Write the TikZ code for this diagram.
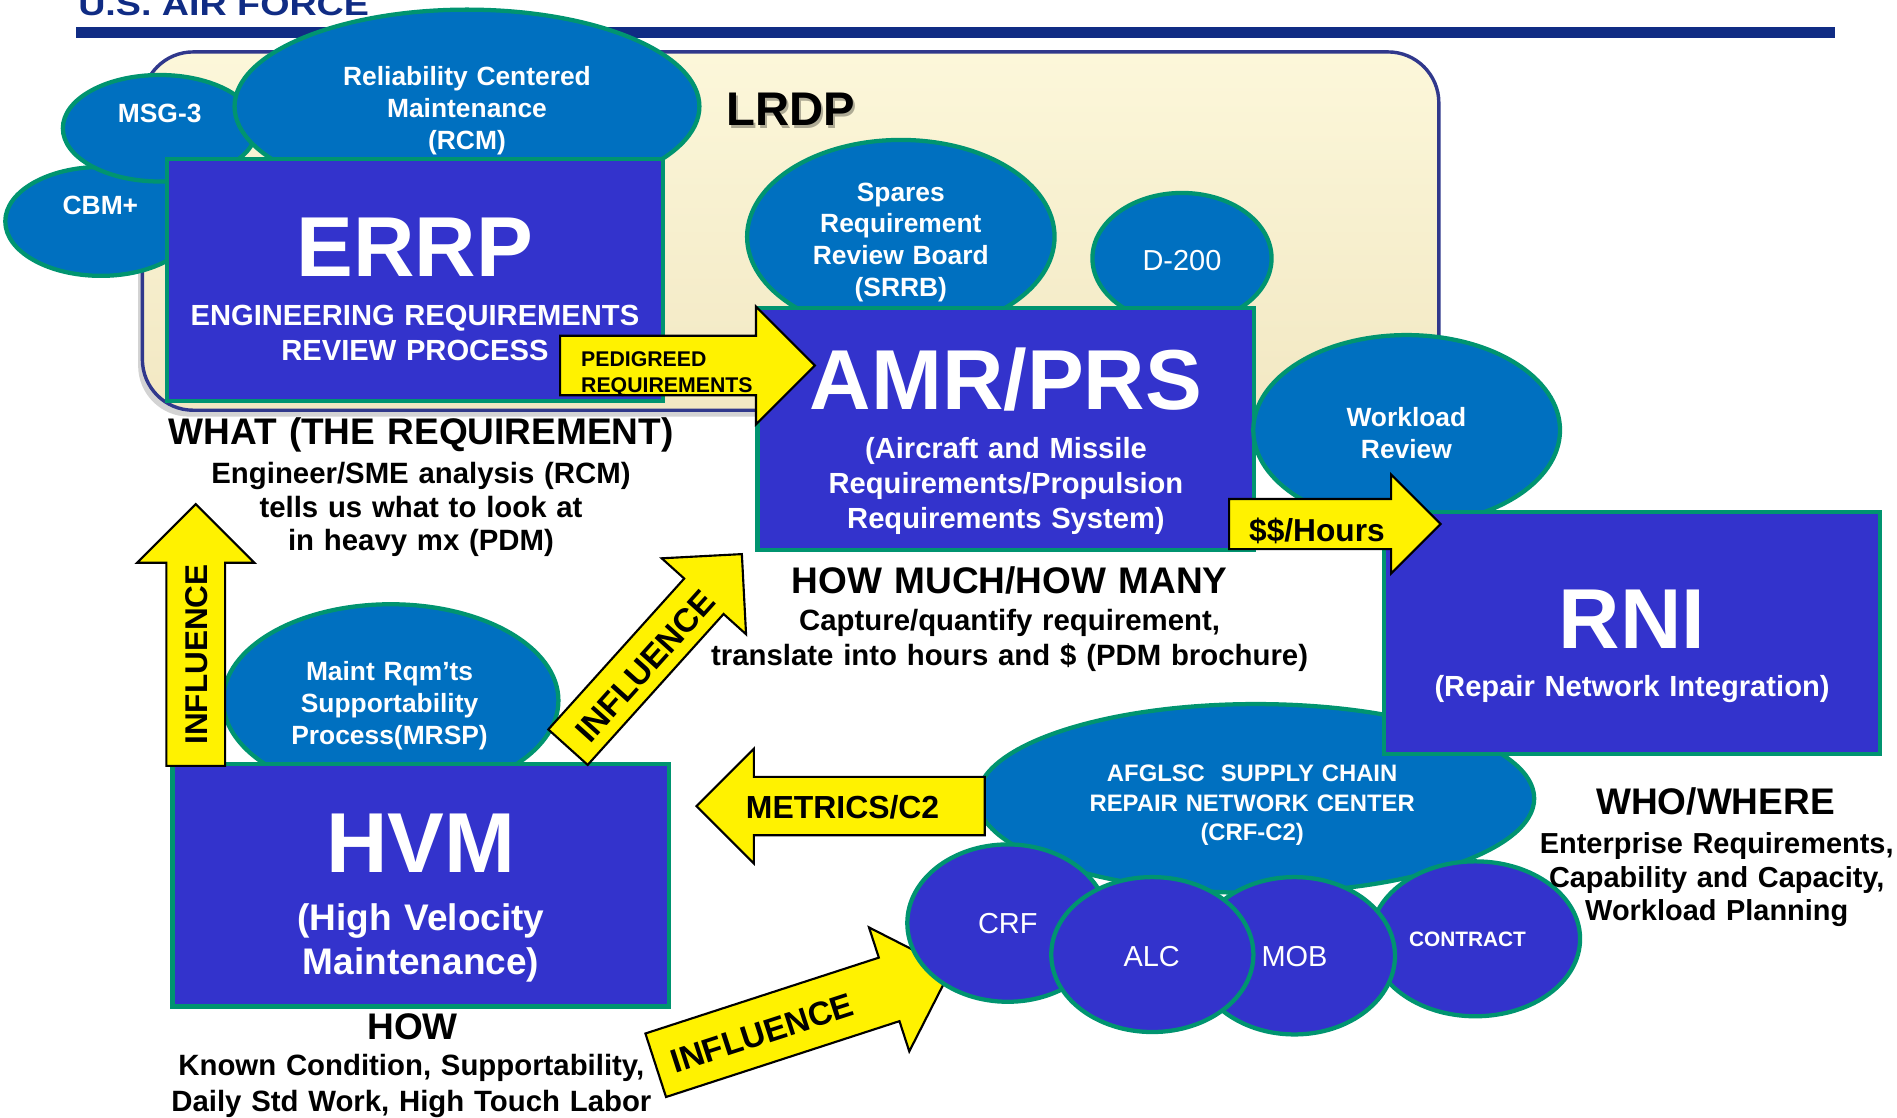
\documentclass[tikz,border=0pt]{standalone}
\usepackage{fontspec}
\setmainfont{Liberation Sans}
\newfontfamily\wideFont[FakeStretch=1.18]{Liberation Sans}
\usepackage{tikz}
\usetikzlibrary{shapes.geometric,shapes.arrows,shadows}

\definecolor{ellBlue}{RGB}{0,112,192}
\definecolor{edgeGreen}{RGB}{0,148,112}
\definecolor{boxBlue}{RGB}{51,51,204}
\definecolor{navy}{RGB}{16,44,132}
\definecolor{lrdpTop}{RGB}{252,247,218}
\definecolor{lrdpFill}{RGB}{242,232,195}
\definecolor{lrdpEdge}{RGB}{48,56,140}

\tikzset{
  bubble/.style={ellipse, draw=edgeGreen, line width=1pt, fill=ellBlue, inner sep=0pt, outer sep=0pt},
  bubbleDark/.style={bubble, fill=boxBlue},
  block/.style={rectangle, draw=edgeGreen, line width=1pt, fill=boxBlue, minimum width=4.1cm, minimum height=2cm, inner sep=0pt},
  lrdpFrame/.style={rectangle, rounded corners=0.42cm, draw=lrdpEdge, line width=0.8pt, top color=lrdpTop, bottom color=lrdpFill,
    drop shadow={shadow xshift=-1pt, shadow yshift=-1.5pt, opacity=0.35}, minimum width=10.71cm, minimum height=2.96cm},
  yArrow/.style={single arrow, draw=black, line width=0.5pt, fill=yellow, inner sep=0pt, outer sep=0pt,
    single arrow tip angle=90, single arrow head indent=0pt, align=left, anchor=tail},
  lightText/.style={anchor=base, inner sep=0pt, align=center, text width=6cm, text=white},
  darkText/.style={anchor=base, inner sep=0pt, align=center, text width=6cm, text=black},
  bubbleText/.style={lightText, font=\bfseries\fontsize{6.2}{7.5}\selectfont},
  plainText/.style={lightText, font=\fontsize{6.8}{8.2}\selectfont},
  bigTitle/.style={lightText, font=\bfseries\fontsize{20}{24}\selectfont},
  boxSub/.style={lightText, font=\bfseries\fontsize{6.85}{8.25}\selectfont},
  capHead/.style={darkText, font=\bfseries\fontsize{8.7}{10.4}\selectfont},
  capText/.style={darkText, font=\bfseries\fontsize{6.9}{8.2}\selectfont}
}

\begin{document}
\begin{tikzpicture}[x=0.01cm, y=-0.01cm]
        \useasboundingbox (0,0) rectangle (1568,924);

        % header
        \node[anchor=base west, inner sep=0pt, text=navy, font=\wideFont\bfseries\fontsize{7.5}{9}\selectfont] (usafText) at (64,13) {U.S. AIR FORCE};
        \fill[navy] (63,22) rectangle (1517,31.7);

        % LRDP frame
        \node[lrdpFrame] (lrdpBox) at (653.5,191) {};
        \node[anchor=base, inner sep=0pt, text=black, opacity=0.3, font=\bfseries\fontsize{11.1}{13}\selectfont] (lrdpShadow) at (655.5,106) {LRDP};
        \node[anchor=base, inner sep=0pt, font=\bfseries\fontsize{11.1}{13}\selectfont] (lrdpLabel) at (653.5,103.5) {LRDP};

        % top ellipses
        \node[bubble, minimum width=1.58cm, minimum height=0.90cm] (cbmEll) at (83.4,183) {};
        \node[bubble, minimum width=1.60cm, minimum height=0.88cm] (msgEll) at (132,106) {};
        \node[bubble, minimum width=3.84cm, minimum height=1.60cm] (rcmEll) at (386,88) {};
        \node[bubble, minimum width=2.54cm, minimum height=1.60cm] (srrbEll) at (744.6,195.7) {};
        \node[bubble, minimum width=1.48cm, minimum height=1.08cm] (d200Ell) at (977,213.5) {};

        % ERRP and AMR/PRS boxes
        \node[block] (errpBox) at (343.2,231.5) {};
        \node[block] (amrBox) at (831.2,354.8) {};
        \node[yArrow, text width=1.511cm, inner xsep=0.165cm, text height=0.249cm, text depth=0.225cm,
              single arrow head extend=0.241cm, font=\bfseries\fontsize{5}{5.97}\selectfont] (pedArrow) at (463,302.1) {PEDIGREED\\REQUIREMENTS};

        % right side
        \node[bubble, minimum width=2.534cm, minimum height=1.57cm] (workEll) at (1162.7,355.5) {};
        \node[bubble, minimum width=4.6cm, minimum height=1.56cm] (afglscEll) at (1038,660) {};
        \node[block] (rniBox) at (1349,523.3) {};
        \node[yArrow, text width=1.21cm, inner xsep=0.156cm, text height=0.341cm, text depth=0.056cm,
              single arrow head extend=0.202cm, font=\bfseries\fontsize{7.45}{9}\selectfont] (dolArrow) at (1016,433.15) {\$\$/Hours};

        % HVM side
        \node[bubble, minimum width=2.77cm, minimum height=1.59cm] (mrspEll) at (323,579) {};
        \node[block] (hvmBox) at (347.8,731.8) {};
        \node[yArrow, rotate=90, align=center, text width=1.902cm, text height=0.327cm, text depth=0.141cm,
              single arrow head extend=0.242cm, font=\bfseries\fontsize{7.4}{9}\selectfont] (vInfArrow) at (161.8,633) {\makebox[\linewidth]{INFLUENCE\hspace*{0.082cm}}};
        \node[yArrow, rotate=48, align=center, text width=1.91cm, text height=0.332cm, text depth=0.088cm,
              single arrow head extend=0.25cm, font=\bfseries\fontsize{7.8}{9}\selectfont] (uInfArrow) at (469.5,617.6) {\makebox[\linewidth]{INFLUENCE\hspace*{0.08cm}}};
        \node[yArrow, rotate=18, align=center, text width=2.2725cm, text height=0.38cm, text depth=0.154cm,
              single arrow head extend=0.2625cm, font=\bfseries\fontsize{7.8}{9}\selectfont] (lInfArrow) at (542,880.5) {\makebox[\linewidth]{INFLUENCE\hspace*{0.454cm}}};

        % repair network bubbles
        \node[bubbleDark, minimum width=1.73cm, minimum height=1.28cm] (contractEll) at (1219.5,776) {};
        \node[bubbleDark, minimum width=1.66cm, minimum height=1.30cm] (mobEll) at (1070,790) {};
        \node[bubbleDark, minimum width=1.66cm, minimum height=1.30cm] (crfEll) at (833,763) {};
        \node[bubbleDark, minimum width=1.67cm, minimum height=1.28cm] (alcEll) at (952.5,789) {};
        \node[yArrow, shape border rotate=180, text width=2.1225cm, text height=0.334cm, text depth=0.131cm,
              single arrow head extend=0.2325cm, font=\bfseries\fontsize{7.5}{9}\selectfont] (metArrow) at (814,666.25) {\hspace*{0.1585cm}METRICS/C2};

        % ellipse texts
        \node[bubbleText] (msgText) at (132,101.6) {MSG-3};
        \node[bubbleText] (cbmText) at (83,177.4) {CBM+};
        \node[bubbleText] (rcmText) at (386,70.6) {Reliability Centered\\Maintenance\\(RCM)};
        \node[bubbleText] (srrbText) at (744.6,166.2) {Spares\\Requirement\\Review Board\\(SRRB)};
        \node[plainText] (d200Text) at (977,223.6) {D-200};
        \node[bubbleText] (workText) at (1162.5,352.3) {Workload\\Review};
        \node[bubbleText] (mrspText) at (322,562.8) {Maint Rqm’ts\\Supportability\\Process(MRSP)};
        \node[lightText, font=\bfseries\fontsize{5.6}{6.97}\selectfont] (afglscText) at (1035,646) {AFGLSC~~SUPPLY CHAIN\\REPAIR NETWORK CENTER\\(CRF-C2)};
        \node[plainText] (crfText) at (833,771.6) {CRF};
        \node[plainText] (alcText) at (952,798.6) {ALC};
        \node[plainText] (mobText) at (1070,798.6) {MOB};
        \node[lightText, font=\bfseries\fontsize{4.9}{6}\selectfont] (contractText) at (1213,782.2) {CONTRACT};

        % box texts
        \node[bigTitle] (errpTitle) at (343,228.2) {ERRP};
        \node[boxSub] (errpText) at (343,269) {ENGINEERING REQUIREMENTS\\REVIEW PROCESS};
        \node[bigTitle] (amrTitle) at (831.5,338.7) {AMR/PRS};
        \node[boxSub] (amrText) at (831.5,378.7) {(Aircraft and Missile\\Requirements/Propulsion\\Requirements System)};
        \node[bigTitle] (rniTitle) at (1349,535.7) {RNI};
        \node[boxSub] (rniText) at (1349,575.7) {(Repair Network Integration)};
        \node[bigTitle] (hvmTitle) at (348,721.2) {HVM};
        \node[lightText, font=\bfseries\fontsize{8.7}{10.4}\selectfont] (hvmText) at (348,769) {(High Velocity\\Maintenance)};

        % captions
        \node[capHead] (whatHead) at (348,367.7) {WHAT (THE REQUIREMENT)};
        \node[capText, font=\bfseries\fontsize{6.9}{7.9}\selectfont] (whatText) at (348,399.7) {Engineer/SME analysis (RCM)\\tells us what to look at\\in heavy mx (PDM)};
        \node[capHead] (howMuchHead) at (834.5,490.4) {HOW MUCH/HOW MANY};
        \node[capText] (howMuchText) at (834.5,521.2) {Capture/quantify requirement,\\translate into hours and \$ (PDM brochure)};
        \node[capHead] (whoHead) at (1418,673.6) {WHO/WHERE};
        \node[capText, font=\bfseries\fontsize{6.8}{7.9}\selectfont] (whoText) at (1419,705.6) {Enterprise Requirements,\\Capability and Capacity,\\Workload Planning};
        \node[capHead] (howHead) at (341,859) {HOW};
        \node[capText, font=\bfseries\fontsize{6.9}{8.3}\selectfont] (howText) at (340,889.2) {Known Condition, Supportability,\\Daily Std Work, High Touch Labor};
\end{tikzpicture}
\end{document}
